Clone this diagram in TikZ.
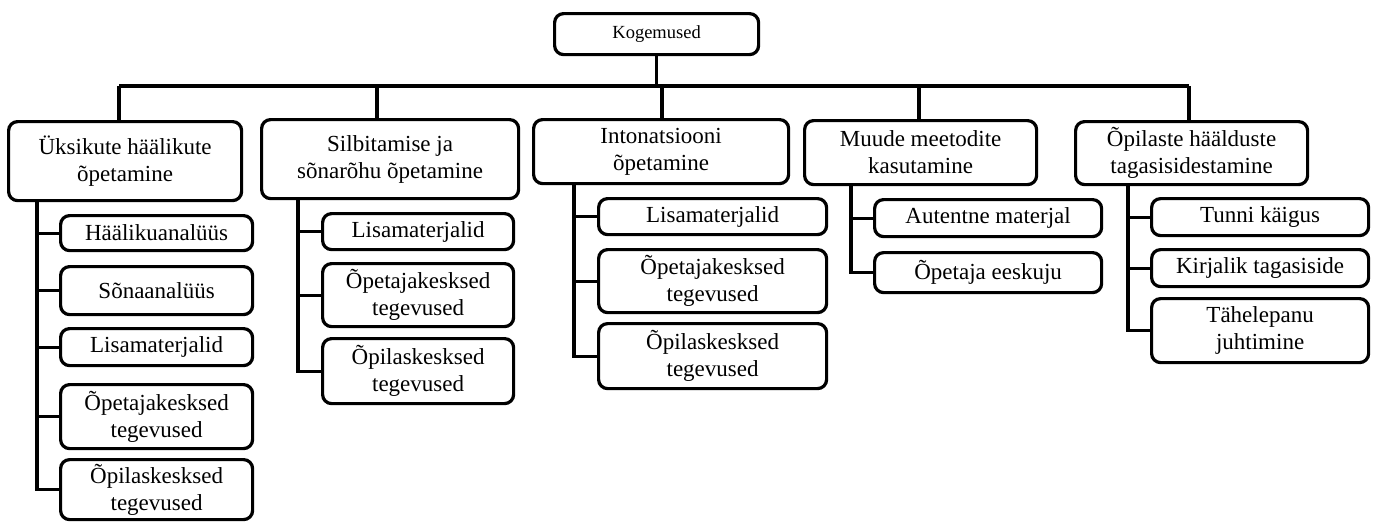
\documentclass[tikz,border=0pt]{standalone}
\usepackage{fontspec}
\setmainfont{Liberation Serif}
\usetikzlibrary{positioning}
\tikzset{
	box/.style = {
		rectangle,
		rounded corners=9pt,
		draw=black,
		line width=3.2pt,
		align=center,
		inner sep=0pt,
		anchor=north west,
		font=\fontsize{23}{27}\selectfont
	},
	box_root/.style = {
		box,
		font=\fontsize{18.5}{22}\selectfont,
		minimum width=204pt,
		minimum height=41pt
	},
	box_sub/.style = {
		box,
		minimum width=#1
	},
	link/.style = {
		line width=3.2pt
	},
}
\begin{document}
\begin{tikzpicture}[x=1pt,y=-1pt]
\useasboundingbox (0,0) rectangle (1378,523);
\node [box_root] (root) at (553,12) {Kogemused};

\node [box, minimum width=233pt, minimum height=79pt] (m1) at (7,120) {Üksikute häälikute\\õpetamine};
\node [box, minimum width=257pt, minimum height=79pt] (m2) at (260,118) {Silbitamise ja\\sõnarõhu õpetamine};
\node [box, minimum width=255pt, minimum height=64pt] (m3) at (532,118) {Intonatsiooni\\õpetamine};
\node [box, minimum width=232pt, minimum height=64pt] (m4) at (803,119) {Muude meetodite\\kasutamine};
\node [box, minimum width=232pt, minimum height=63pt] (m5) at (1074,120) {Õpilaste häälduste\\tagasisidestamine};

\node [box_sub=192pt, minimum height=35pt] (u1) at (59,214) {Häälikuanalüüs};
\node [box_sub=192pt, minimum height=48pt] (u2) at (59,265) {Sõnaanalüüs};
\node [box_sub=192pt, minimum height=37pt] (u3) at (59,327) {Lisamaterjalid};
\node [box_sub=192pt, minimum height=64pt] (u4) at (59,383) {Õpetajakesksed\\tegevused};
\node [box_sub=192pt, minimum height=60pt] (u5) at (59,458) {Õpilaskesksed\\tegevused};

\node [box_sub=191pt, minimum height=36pt] (s1) at (321,212) {Lisamaterjalid};
\node [box_sub=191pt, minimum height=63pt] (s2) at (321,262) {Õpetajakesksed\\tegevused};
\node [box_sub=191pt, minimum height=65pt] (s3) at (321,337) {Õpilaskesksed\\tegevused};

\node [box_sub=228pt, minimum height=36pt] (i1) at (597,197) {Lisamaterjalid};
\node [box_sub=228pt, minimum height=63pt] (i2) at (597,248) {Õpetajakesksed\\tegevused};
\node [box_sub=228pt, minimum height=65pt] (i3) at (597,322) {Õpilaskesksed\\tegevused};

\node [box_sub=227pt, minimum height=37pt] (k1) at (873,198) {Autentne materjal};
\node [box_sub=227pt, minimum height=40pt] (k2) at (873,251) {Õpetaja eeskuju};

\node [box_sub=217pt, minimum height=37pt] (t1) at (1150,197) {Tunni käigus};
\node [box_sub=217pt, minimum height=37pt] (t2) at (1150,248) {Kirjalik tagasiside};
\node [box_sub=217pt, minimum height=64pt] (t3) at (1150,297) {Tähelepanu\\juhtimine};

% bar under the root
\foreach \m/\x in {m1/119,m2/377,m3/662,m4/919,m5/1189} {
	\coordinate (top\m) at (\x,86);
	\draw [link] (top\m) -- (top\m |- \m.north);
}
\draw [link] (topm1) -- (topm5);
\draw [link] (root) -- (root |- topm1);

% side branches
\foreach \m/\dx/\kids in {m1/30/{u1,u2,u3,u4,u5}, m2/38/{s1,s2,s3}, m3/42/{i1,i2,i3}, m4/48/{k1,k2}, m5/54/{t1,t2,t3}} {
	\path (\m.south west) ++(\dx,0) coordinate (spine\m);
	\foreach \k in \kids
		\draw [link] (spine\m) |- (\k.west);
}
\end{tikzpicture}
\end{document}
